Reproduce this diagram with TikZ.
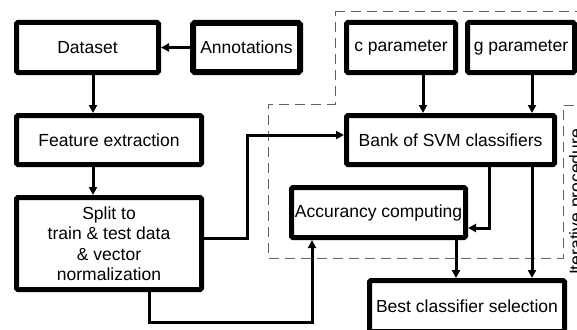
\documentclass[tikz,border=0pt]{standalone}
\usepackage{fontspec}
\setmainfont{Liberation Sans}
\usetikzlibrary{arrows.meta}

\begin{document}
\begin{tikzpicture}[x=1pt, y=-1pt,
		blk/.style={draw, line width=5pt, rounded corners=1.5pt, fill=white, inner sep=1pt, align=center,
			font=\fontsize{17.5}{20.5}\selectfont},
		conn/.style={line width=3pt, -{Triangle[length=8pt, width=8pt]}},
		zone/.style={draw=black!62, line width=1pt, dash pattern=on 10pt off 6pt}]
			%%%%% START %%%%%
			
			\useasboundingbox (0, 0) rectangle (577, 329);
			\clip (0, 0) rectangle (577, 329);
			
			\draw[zone] (335, 12) -- (600, 12) -- (600, 105) -- (563, 105) -- (563, 258) -- (268, 258) -- (268, 104) -- (335, 104) -- cycle;
			\node[rotate=90, anchor=north, inner sep=0pt, font=\fontsize{17.5}{20}\selectfont] (iter) at (569, 202) {Iterative procedure};
			
			\node[blk, minimum width=142, minimum height=50] (dataset) at (87.5, 47.5) {Dataset};
			\node[blk, line width=6pt, minimum width=107, minimum height=49] (annot) at (246.5, 47.5) {Annotations};
			\node[blk, minimum width=109, minimum height=50] (cpar) at (401, 47.5) {c parameter};
			\node[blk, minimum width=107, minimum height=50] (gpar) at (521, 47.5) {g parameter};
			
			\node[blk, minimum width=185, minimum height=49] (feat) at (109, 140) {Feature extraction};
			\node[blk, minimum width=208, minimum height=49] (bank) at (450.5, 140) {Bank of SVM classifiers};
			
			\node[blk, minimum width=185, minimum height=92] (split) at (109, 243.5) {Split to\\train \& test data\\\& vector\\normalization};
			\node[blk, minimum width=174, minimum height=50] (acc) at (378.5, 212.5) {Accurancy computing};
			\node[blk, minimum width=195, minimum height=51] (best) at (467, 306) {Best classifier selection};
			
			\coordinate (xl) at (93, 0);
			\coordinate (xc) at (423, 0);
			\coordinate (xg) at (532, 0);
			\coordinate (xa) at (456, 0);
			\coordinate (jA) at (247, 238);
			\coordinate (jB) at (247, 135);
			\coordinate (jC) at (149, 322);
			\coordinate (jD) at (312, 322);
			\coordinate (jE) at (489, 228);
			
			\draw[conn] (annot.west) -- (dataset.east);
			\draw[conn] (dataset.south -| xl) -- (feat.north -| xl);
			\draw[conn] (feat.south -| xl) -- (split.north -| xl);
			
			\draw[conn] (split.east |- jA) -- (jA) -- (jB) -- (bank.west |- jB);
			\draw[conn] (split.south -| jC) -- (jC) -- (jD) -- (acc.south -| jD);
			
			\draw[conn] (cpar.south -| xc) -- (bank.north -| xc);
			\draw[conn] (gpar.south -| xg) -- (bank.north -| xg);
			\draw[conn] (bank.south -| jE) -- (jE) -- (acc.east |- jE);
			\draw[conn] (bank.south -| xg) -- (best.north -| xg);
			\draw[conn] (acc.south -| xa) -- (best.north -| xa);
			
			%%%%% END %%%%%
		\end{tikzpicture}
\end{document}
